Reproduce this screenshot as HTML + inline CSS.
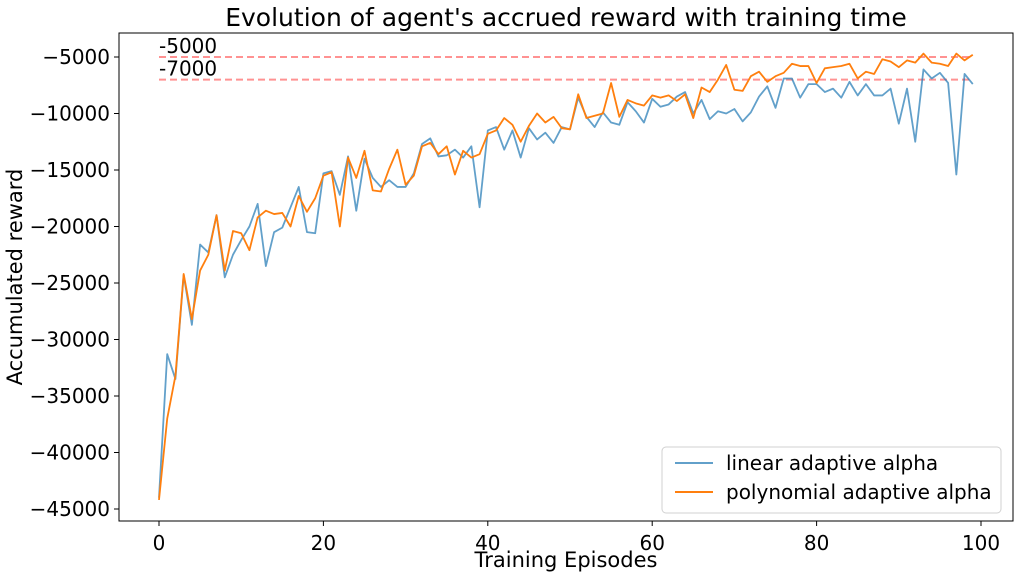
<!DOCTYPE html>
<html><head><meta charset="utf-8"><style>
body{margin:0;background:#fff;}
svg{display:block;font-family:"DejaVu Sans","Liberation Sans",sans-serif;}
</style></head><body>
<svg id="chart" width="1021" height="577" xmlns="http://www.w3.org/2000/svg"></svg>
<script>
const episodes = Array.from({length:100},(_,i)=>i);
const linearAlpha = [-44000,-31300,-33500,-24300,-28700,-21600,-22300,-19000,-24500,-22500,-21200,-20000,-18000,-23500,-20500,-20100,-18300,-16500,-20500,-20600,-15300,-15100,-17200,-13800,-18600,-14000,-15700,-16500,-15900,-16500,-16500,-15300,-12700,-12200,-13800,-13700,-13200,-13900,-12900,-18300,-11500,-11200,-13200,-11500,-13900,-11300,-12300,-11700,-12600,-11200,-11400,-8600,-10300,-11200,-9900,-10800,-11000,-9000,-9800,-10800,-8700,-9400,-9200,-8500,-8100,-10000,-8800,-10500,-9800,-10000,-9600,-10700,-9900,-8500,-7600,-9500,-6900,-6900,-8600,-7400,-7400,-8100,-7800,-8600,-7200,-8400,-7400,-8400,-8400,-7800,-10900,-7800,-12500,-6100,-6900,-6400,-7300,-15400,-6500,-7400];
const polyAlpha = [-44200,-37000,-33200,-24200,-28200,-23900,-22500,-19000,-23900,-20400,-20600,-22100,-19200,-18600,-18900,-18800,-20000,-17300,-18700,-17500,-15500,-15200,-20000,-13900,-15700,-13300,-16800,-16900,-14900,-13200,-16300,-15500,-12900,-12600,-13600,-12900,-15400,-13300,-13900,-13600,-11800,-11500,-10400,-11000,-12500,-11100,-10000,-10800,-10300,-11300,-11400,-8300,-10400,-10200,-10000,-7300,-10300,-8800,-9100,-9300,-8400,-8600,-8400,-8900,-8300,-10400,-7700,-8100,-7000,-5700,-7900,-8000,-6700,-6300,-7200,-6700,-6400,-5600,-5800,-5800,-7300,-6000,-5900,-5800,-5600,-6900,-6300,-6500,-5200,-5400,-5900,-5300,-5500,-4700,-5500,-5600,-5800,-4700,-5300,-4800];
const xTicks = [0,20,40,60,80,100];
const yTicks = [-5000,-10000,-15000,-20000,-25000,-30000,-35000,-40000,-45000];
const refLines = [-5000,-7000];

const NS="http://www.w3.org/2000/svg";
const svg=document.getElementById('chart');
const L=119,R=1013,T=33,B=521;
const xs=v=>159+v*(981-159)/100;
const ys=v=>57+(-5000-v)*(509-57)/40000;
function el(tag,attrs,parent){const e=document.createElementNS(NS,tag);for(const k in attrs)e.setAttribute(k,attrs[k]);(parent||svg).appendChild(e);return e;}

const title=el('text',{x:566,y:26,'text-anchor':'middle','font-size':25,fill:'#000'});


title.textContent="Evolution of agent's accrued reward with training time";

xTicks.forEach(t=>{
  const g=el('g',{});
  
  
  el('line',{x1:xs(t),x2:xs(t),y1:B,y2:B+5,stroke:'#000','stroke-width':1},g);
  const tx=el('text',{x:xs(t),y:B+29,'text-anchor':'middle','font-size':20},g);tx.textContent=t;
});
yTicks.forEach(t=>{
  const g=el('g',{});
  
  
  el('line',{x1:L-5,x2:L,y1:ys(t),y2:ys(t),stroke:'#000','stroke-width':1},g);
  const tx=el('text',{x:L-9,y:ys(t)+7,'text-anchor':'end','font-size':20},g);tx.textContent='\u2212'+Math.abs(t);
});
const xt=el('text',{x:566,y:567,'text-anchor':'middle','font-size':21});


xt.textContent='Training Episodes';
const yt=el('text',{x:22,y:277,'text-anchor':'middle','font-size':21,transform:'rotate(-90 22 277)'});


yt.textContent='Accumulated reward';

refLines.forEach(v=>{
  const ln=el('line',{x1:xs(0),x2:xs(99),y1:ys(v),y2:ys(v),stroke:'#ff8080','stroke-width':2,'stroke-dasharray':'7,4',opacity:0.85});
  
  
  const tx=el('text',{x:xs(0),y:ys(v)-4,'font-size':20});
  
  
  tx.textContent=String(v);
});

function series(data,color,name){
  const p=el('polyline',{points:data.map((v,i)=>xs(episodes[i])+','+ys(v)).join(' '),fill:'none',stroke:color,'stroke-width':1.8,'stroke-linejoin':'round'});
  
  
}
series(linearAlpha,'rgba(31,119,180,0.7)','linear-alpha-line');
series(polyAlpha,'#ff7f0e','polynomial-alpha-line');

const frame=el('rect',{x:L,y:T,width:R-L,height:B-T,fill:'none',stroke:'#000','stroke-width':1});



const lg=el('g',{});


el('rect',{x:662,y:447,width:339,height:66,rx:4,fill:'#fff',stroke:'#ccc','stroke-width':1,opacity:0.9},lg);
const e1=el('g',{},lg);


el('line',{x1:675,x2:713,y1:463,y2:463,stroke:'rgba(31,119,180,0.7)','stroke-width':2},e1);
const t1=el('text',{x:726,y:470,'font-size':20},e1);t1.textContent='linear adaptive alpha';
const e2=el('g',{},lg);


el('line',{x1:675,x2:713,y1:492,y2:492,stroke:'#ff7f0e','stroke-width':2},e2);
const t2=el('text',{x:726,y:499,'font-size':20},e2);t2.textContent='polynomial adaptive alpha';
</script>
</body></html>
